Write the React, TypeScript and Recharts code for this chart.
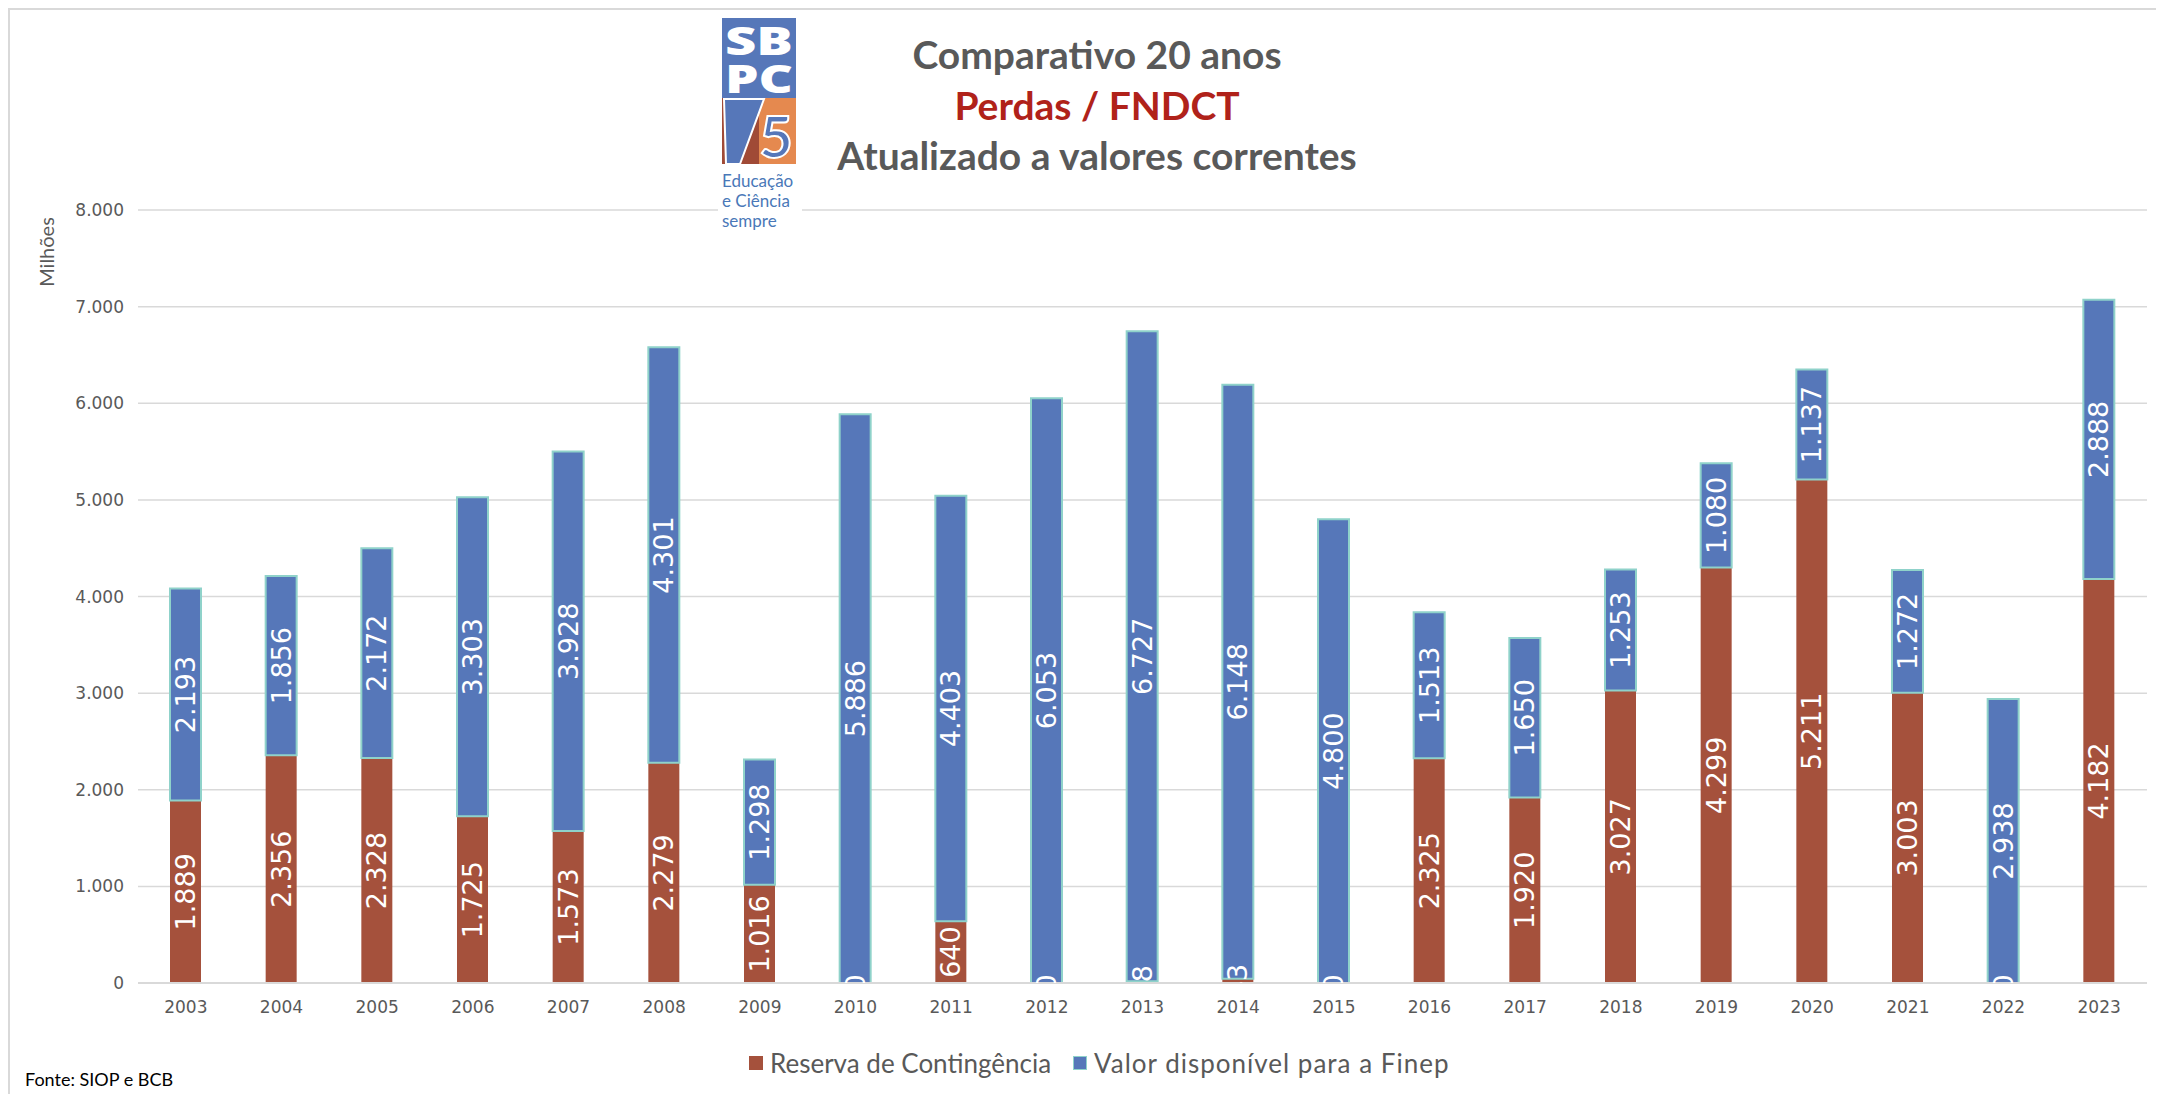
import React from "react";
import {
  BarChart,
  Bar,
  XAxis,
  YAxis,
  CartesianGrid,
  Legend,
  LabelList,
} from "recharts";

const years = [
  "2003", "2004", "2005", "2006", "2007", "2008", "2009", "2010", "2011", "2012",
  "2013", "2014", "2015", "2016", "2017", "2018", "2019", "2020", "2021", "2022", "2023",
];
const reserva = [
  1889, 2356, 2328, 1725, 1573, 2279, 1016, 0, 640, 0,
  18, 43, 0, 2325, 1920, 3027, 4299, 5211, 3003, 0, 4182,
];
const finep = [
  2193, 1856, 2172, 3303, 3928, 4301, 1298, 5886, 4403, 6053,
  6727, 6148, 4800, 1513, 1650, 1253, 1080, 1137, 1272, 2938, 2888,
];
const yTicks = [0, 1000, 2000, 3000, 4000, 5000, 6000, 7000, 8000];

const RED = "#a5513c";
const BLUE = "#5677b9";
const TEAL = "#8fd2ca";
const GRAY = "#595959";
const GRID = "#d9d9d9";

const data = years.map((y, i) => ({ year: y, reserva: reserva[i], finep: finep[i] }));

const fmt = (v: number) =>
  String(v).replace(/\B(?=(\d{3})+(?!\d))/g, ".");

// rotated white label centred on a segment, clipped at the segment's bottom
// mode "self": label of the segment itself (skipped for 0)
// mode "zeroBelow": red value 0, drawn at the bottom edge of the blue segment
const makeLabel = (key: string, mode: "self" | "zeroBelow") => (props: any) => {
  const value = Number(props.value);
  if (mode === "self" && value === 0) return null;
  if (mode === "zeroBelow" && value !== 0) return null;
  const vb = props.viewBox || props;
  const { x, y, width, height } = vb;
  const top = Math.min(y, y + height);
  const bottom = Math.max(y, y + height);
  const cx = x + width / 2;
  const cy = mode === "zeroBelow" ? bottom : (top + bottom) / 2;
  const id = `clip-${key}-${props.index}`;
  return (
    <g>
      <defs>
        <clipPath id={id}>
          <rect x={cx - 40} y={bottom - 3000} width={80} height={3000} />
        </clipPath>
      </defs>
      <g clipPath={`url(#${id})`}>
        <text
          x={cx}
          y={cy}
          transform={`rotate(-90 ${cx} ${cy})`}
          textAnchor="middle"
          dominantBaseline="central"
          fill="#fff"
          fontFamily="'DejaVu Sans', Verdana, sans-serif"
          fontSize={27}
        >
          {fmt(value)}
        </text>
      </g>
    </g>
  );
};

const LegendBox = () => (
  <div
    style={{
      display: "flex",
      alignItems: "center",
      height: 30,
      fontFamily: "Lato, sans-serif",
      fontSize: 26,
      color: GRAY,
      whiteSpace: "nowrap",
    }}
  >
    <span style={{ width: 14, height: 14, background: RED, marginRight: 7 }} />
    <span style={{ marginRight: 22 }}>Reserva de Contingência</span>
    <span
      style={{
        width: 12,
        height: 12,
        background: BLUE,
        border: `1px solid ${TEAL}`,
        marginRight: 7,
      }}
    />
    <span style={{ letterSpacing: 1 }}>Valor disponível para a Finep</span>
  </div>
);

export default function App() {
  return (
    <div style={{ position: "relative", width: 2148, height: 1086 }}>
      <div
        style={{
          position: "absolute",
          left: 0,
          top: 0,
          width: 2160,
          height: 1086,
          borderTop: `2px solid ${GRID}`,
          borderLeft: `2px solid ${GRID}`,
          boxSizing: "border-box",
        }}
      />
      <BarChart
        width={2148}
        height={1078}
        data={data}
        margin={{ top: 202, right: 9, left: 70, bottom: 43 }}
        barSize={31}
        style={{ position: "absolute", left: 0, top: 0 }}
      >
        <CartesianGrid vertical={false} stroke={GRID} strokeWidth={1.5} />
        <XAxis
          dataKey="year"
          height={30}
          tickLine={false}
          tickMargin={12}
          axisLine={{ stroke: GRID, strokeWidth: 2 }}
          tick={{ fill: GRAY, fontSize: 17, fontFamily: "'DejaVu Sans', Verdana, sans-serif" }}
        />
        <YAxis
          width={60}
          domain={[0, 8000]}
          ticks={yTicks}
          tickLine={false}
          axisLine={false}
          tickMargin={8}
          tickFormatter={(v: number) => fmt(v)}
          tick={{ fill: GRAY, fontSize: 17, fontFamily: "'DejaVu Sans', Verdana, sans-serif" }}
        />
        <Legend
          verticalAlign="bottom"
          content={() => <LegendBox />}
          wrapperStyle={{ left: 741, bottom: 8, width: "auto", height: 30 }}
        />
        <Bar dataKey="reserva" name="Reserva de Contingência" stackId="a" fill={RED} isAnimationActive={false}>
          <LabelList dataKey="reserva" content={makeLabel("r", "self")} />
        </Bar>
        <Bar
          dataKey="finep"
          name="Valor disponível para a Finep"
          stackId="a"
          fill={BLUE}
          stroke={TEAL}
          strokeWidth={2}
          isAnimationActive={false}
        >
          <LabelList dataKey="finep" content={makeLabel("f", "self")} />
          <LabelList dataKey="reserva" content={makeLabel("z", "zeroBelow")} />
        </Bar>
      </BarChart>

      {/* titles, logo and notes */}
      <svg
        width={2148}
        height={1086}
        style={{ position: "absolute", left: 0, top: 0, pointerEvents: "none" }}
      >
        <g transform="translate(-8,-8)">
          {/* logo */}
          <rect x={722} y={18} width={74} height={80} fill={BLUE} />
          <g fill="#fff" fontFamily="'Open Sans', sans-serif" fontWeight={800} fontSize={38} textAnchor="middle">
            <text x={759} y={55} textLength={68} lengthAdjust="spacingAndGlyphs">SB</text>
            <text x={759} y={93} textLength={68} lengthAdjust="spacingAndGlyphs">PC</text>
          </g>
          <rect x={722} y={98} width={37} height={66} fill="#a04a36" />
          <rect x={759} y={98} width={37} height={66} fill="#e5894f" />
          <polygon points="724,99 764,99 740,164 726,164" fill={BLUE} stroke="#fff" strokeWidth={2} />
          <text x={776} y={158} textAnchor="middle" fill={BLUE} stroke="#fff" strokeWidth={2} fontFamily="Lato, sans-serif" fontWeight={700} fontSize={58}>5</text>
          <rect x={718} y={168} width={84} height={64} fill="#fff" />
          <g fill="#4a78b8" fontFamily="Lato, sans-serif" fontSize={17}>
            <text x={722} y={187}>Educação</text>
            <text x={722} y={207}>e Ciência</text>
            <text x={722} y={227}>sempre</text>
          </g>

          {/* title */}
          <g fontFamily="Lato, sans-serif" fontWeight={700} fontSize={39} textAnchor="middle">
            <text x={1097} y={69} fill={GRAY}>Comparativo 20 anos</text>
            <text x={1097} y={120} fill="#b0221a">Perdas / FNDCT</text>
            <text x={1097} y={170} fill={GRAY}>Atualizado a valores correntes</text>
          </g>

          <text
            x={54}
            y={252}
            transform="rotate(-90 54 252)"
            textAnchor="middle"
            fill={GRAY}
            fontFamily="Lato, sans-serif"
            fontSize={20}
          >
            Milhões
          </text>
          <text x={25} y={1086} fill="#000" fontFamily="Lato, sans-serif" fontSize={18}>
            Fonte: SIOP e BCB
          </text>
        </g>
      </svg>
    </div>
  );
}
